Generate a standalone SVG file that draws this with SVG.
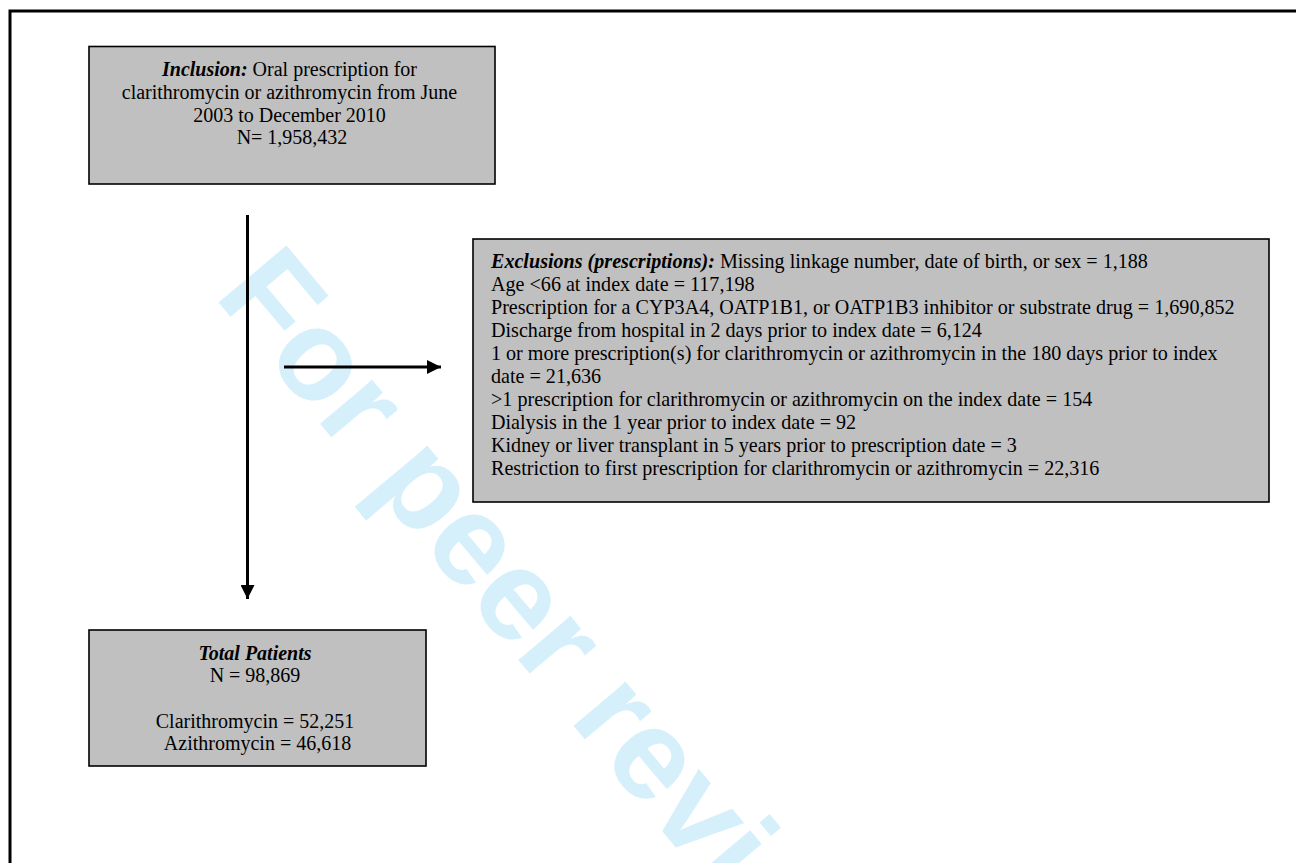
<svg xmlns="http://www.w3.org/2000/svg" width="1296" height="863" viewBox="0 0 1296 863">
<style>
.box{fill:#c0c0c0;stroke:#000;stroke-width:1.6}
.t{font-family:"Liberation Serif","Times New Roman",serif;fill:#000}
.bi{font-weight:bold;font-style:italic}
.wm{font-family:"Liberation Sans",Arial,sans-serif;font-weight:bold;font-size:129px;fill:#d6f0fb}
.ln{stroke:#000;stroke-width:3;fill:none}
</style>
<defs>
<marker id="ah" markerUnits="userSpaceOnUse" markerWidth="14" markerHeight="14" refX="14" refY="7" orient="auto">
<path d="M0,0 L14,7 L0,14 Z" fill="#000"/>
</marker>
</defs>
<rect width="1296" height="863" fill="#fff"/>
<path d="M10,863 V11 H1296" fill="none" stroke="#000" stroke-width="3"/>
<text class="wm" transform="translate(213,296) rotate(50)">For peer review</text>
<g id="inclusion">
<rect class="box" x="89" y="46.5" width="406" height="137.5"/>
<text class="t" font-size="20" text-anchor="middle">
<tspan x="292" y="76"><tspan class="bi">Inclusion:</tspan> Oral prescription for</tspan>
<tspan x="292" y="99">clarithromycin or azithromycin from June</tspan>
<tspan x="292" y="121.5">2003 to December 2010</tspan>
<tspan x="292" y="144">N= 1,958,432</tspan>
</text>
</g>
<g id="exclusions">
<rect class="box" x="473" y="239" width="796" height="263"/>
<text class="t" font-size="20.1">
<tspan x="491" y="267.7"><tspan class="bi">Exclusions (prescriptions):</tspan> Missing linkage number, date of birth, or sex = 1,188</tspan>
<tspan x="491" y="290.7">Age &lt;66 at index date = 117,198</tspan>
<tspan x="491" y="313.8">Prescription for a CYP3A4, OATP1B1, or OATP1B3 inhibitor or substrate drug = 1,690,852</tspan>
<tspan x="491" y="336.8">Discharge from hospital in 2 days prior to index date = 6,124</tspan>
<tspan x="491" y="359.8">1 or more prescription(s) for clarithromycin or azithromycin in the 180 days prior to index</tspan>
<tspan x="491" y="382.9">date = 21,636</tspan>
<tspan x="491" y="405.9">&gt;1 prescription for clarithromycin or azithromycin on the index date = 154</tspan>
<tspan x="491" y="428.9">Dialysis in the 1 year prior to index date = 92</tspan>
<tspan x="491" y="452">Kidney or liver transplant in 5 years prior to prescription date = 3</tspan>
<tspan x="491" y="475">Restriction to first prescription for clarithromycin or azithromycin = 22,316</tspan>
</text>
</g>
<g id="total">
<rect class="box" x="89" y="630" width="337" height="136"/>
<text class="t" font-size="20" text-anchor="middle">
<tspan x="257.5" y="659.5" class="bi">Total Patients</tspan>
<tspan x="257.5" y="682">N = 98,869</tspan>
<tspan x="257.5" y="727.5">Clarithromycin = 52,251</tspan>
<tspan x="257.5" y="750">Azithromycin = 46,618</tspan>
</text>
</g>
<g id="connectors">
<line class="ln" x1="247.5" y1="215" x2="247.5" y2="599" marker-end="url(#ah)"/>
<line class="ln" x1="284" y1="367" x2="441" y2="367" marker-end="url(#ah)"/>
</g>
</svg>
